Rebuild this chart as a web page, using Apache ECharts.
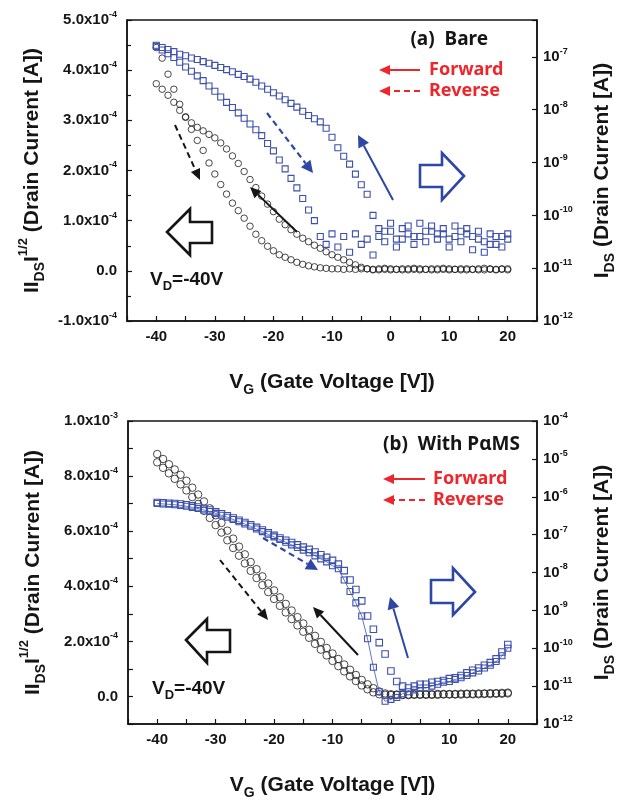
<!DOCTYPE html>
<html>
<head>
<meta charset="utf-8">
<title>Transfer curves</title>
<script src="https://cdn.jsdelivr.net/npm/echarts@6.0.0/dist/echarts.min.js"></script>
<style>
  html, body { margin: 0; padding: 0; background: #fff; }
  #chart { width: 625px; height: 801px; }
</style>
</head>
<body>
<div id="chart"></div>
<script>
// gate voltage sweep points (V)
const gateV = [-40, -39, -38, -37, -36, -35, -34, -33, -32, -31, -30, -29, -28, -27, -26, -25, -24, -23, -22, -21,
  -20, -19, -18, -17, -16, -15, -14, -13, -12, -11, -10, -9, -8, -7, -6, -5, -4, -3, -2, -1,
  0, 1, 2, 3, 4, 5, 6, 7, 8, 9, 10, 11, 12, 13, 14, 15, 16, 17, 18, 19, 20];

// (a) Bare : |Ids|^1/2 in units of 1e-4 A^1/2
const bareRootFwd = [3.73, 3.62, 3.50, 3.36, 3.20, 3.06, 2.95, 2.86, 2.79, 2.72, 2.65, 2.55, 2.43, 2.29, 2.14, 1.98, 1.82, 1.66, 1.49, 1.33,
  1.18, 1.03, 0.92, 0.82, 0.73, 0.65, 0.58, 0.51, 0.45, 0.38, 0.32, 0.27, 0.22, 0.17, 0.12, 0.07, 0.04, 0.02, 0.02, 0.03,
  0.02, 0.03, 0.02, 0.02, 0.03, 0.02, 0.03, 0.02, 0.02, 0.03, 0.02, 0.03, 0.02, 0.02, 0.03, 0.02, 0.02, 0.03, 0.02, 0.03, 0.02];
const bareRootRev = [4.45, 4.24, 3.92, 3.62, 3.32, 3.07, 2.82, 2.60, 2.40, 2.15, 1.93, 1.72, 1.53, 1.35, 1.20, 1.05, 0.89, 0.73, 0.60, 0.49,
  0.40, 0.32, 0.27, 0.22, 0.17, 0.13, 0.10, 0.08, 0.06, 0.05, 0.04, 0.04, 0.03, 0.04, 0.03, 0.04, 0.04, 0.03, 0.04, 0.05,
  0.04, 0.03, 0.04, 0.04, 0.05, 0.04, 0.03, 0.04, 0.04, 0.05, 0.04, 0.03, 0.04, 0.04, 0.03, 0.04, 0.05, 0.04, 0.03, 0.04, 0.04];
// (a) Bare : Ids (A)
const bareIdsFwd = [1.66e-7, 1.51e-7, 1.38e-7, 1.26e-7, 1.12e-7, 1.05e-7, 9.55e-8, 8.91e-8, 8.13e-8, 7.59e-8,
  6.92e-8, 6.31e-8, 5.75e-8, 5.25e-8, 4.68e-8, 4.27e-8, 3.80e-8, 3.31e-8, 2.82e-8, 2.45e-8,
  2.09e-8, 1.82e-8, 1.55e-8, 1.32e-8, 1.12e-8, 9.33e-9, 7.76e-9, 6.76e-9, 5.89e-9, 4.47e-9,
  3.02e-9, 1.91e-9, 1.32e-9, 9.33e-10, 6.03e-10, 3.80e-10, 2.51e-10, 1.00e-10, 5.62e-11, 5.01e-11,
  7.08e-11, 3.55e-11, 5.62e-11, 6.31e-11, 3.98e-11, 7.08e-11, 5.01e-11, 6.31e-11, 4.47e-11, 5.62e-11,
  3.55e-11, 6.31e-11, 5.01e-11, 5.62e-11, 3.98e-11, 5.01e-11, 3.16e-11, 4.47e-11, 2.82e-11, 3.98e-11, 4.47e-11];
const bareIdsRev = [1.58e-7, 1.35e-7, 1.15e-7, 9.77e-8, 7.94e-8, 6.46e-8, 5.37e-8, 4.37e-8, 3.55e-8, 2.82e-8,
  2.24e-8, 1.74e-8, 1.38e-8, 1.10e-8, 8.71e-9, 6.92e-9, 5.37e-9, 4.17e-9, 3.24e-9, 2.29e-9,
  1.66e-9, 1.12e-9, 7.59e-10, 5.01e-10, 3.31e-10, 2.09e-10, 1.26e-10, 7.94e-11, 3.98e-11, 2.82e-11,
  4.47e-11, 2.51e-11, 3.98e-11, 2.00e-11, 4.47e-11, 2.82e-11, 3.55e-11, 1.78e-11, 3.98e-11, 3.16e-11,
  5.01e-11, 2.51e-11, 3.55e-11, 4.47e-11, 2.82e-11, 3.98e-11, 3.16e-11, 5.01e-11, 3.55e-11, 4.47e-11,
  2.51e-11, 3.98e-11, 3.16e-11, 4.47e-11, 2.24e-11, 3.55e-11, 2.00e-11, 2.82e-11, 3.98e-11, 2.51e-11, 3.55e-11];

// (b) With PaMS : |Ids|^1/2 in units of 1e-4 A^1/2
const pamsRootFwd = [8.80, 8.62, 8.43, 8.24, 8.05, 7.83, 7.58, 7.33, 7.08, 6.83, 6.58, 6.30, 6.02, 5.73, 5.44, 5.16, 4.88, 4.62, 4.36, 4.10,
  3.85, 3.60, 3.36, 3.12, 2.88, 2.65, 2.42, 2.20, 1.98, 1.76, 1.56, 1.36, 1.16, 0.97, 0.78, 0.60, 0.44, 0.30, 0.18, 0.11,
  0.08, 0.07, 0.07, 0.07, 0.08, 0.08, 0.08, 0.08, 0.09, 0.09, 0.09, 0.09, 0.10, 0.10, 0.10, 0.11, 0.11, 0.12, 0.12, 0.13, 0.14];
const pamsRootRev = [8.50, 8.30, 8.10, 7.90, 7.70, 7.48, 7.24, 6.99, 6.74, 6.48, 6.22, 5.95, 5.67, 5.39, 5.11, 4.83, 4.56, 4.30, 4.04, 3.79,
  3.54, 3.29, 3.05, 2.81, 2.58, 2.35, 2.13, 1.91, 1.70, 1.49, 1.29, 1.10, 0.91, 0.73, 0.56, 0.40, 0.26, 0.15, 0.08, 0.06,
  0.05, 0.05, 0.05, 0.05, 0.06, 0.06, 0.06, 0.06, 0.06, 0.07, 0.07, 0.07, 0.07, 0.08, 0.08, 0.08, 0.09, 0.09, 0.10, 0.10, 0.11];
// (b) With PaMS : Ids (A)
const pamsIdsFwd = [7.08e-7, 6.92e-7, 6.76e-7, 6.61e-7, 6.46e-7, 6.17e-7, 5.75e-7, 5.37e-7, 4.90e-7, 4.47e-7,
  3.98e-7, 3.55e-7, 3.16e-7, 2.75e-7, 2.40e-7, 2.09e-7, 1.82e-7, 1.55e-7, 1.32e-7, 1.12e-7,
  9.55e-8, 8.13e-8, 7.08e-8, 6.17e-8, 5.37e-8, 4.68e-8, 4.07e-8, 3.47e-8, 2.95e-8, 2.51e-8,
  2.09e-8, 1.66e-8, 1.12e-8, 6.31e-9, 3.55e-9, 1.78e-9, 7.08e-10, 3.16e-10, 1.41e-10, 7.08e-11,
  2.51e-11, 1.32e-11, 1.00e-11, 8.91e-12, 1.00e-11, 1.12e-11, 1.12e-11, 1.26e-11, 1.32e-11, 1.41e-11,
  1.58e-11, 1.66e-11, 1.91e-11, 2.24e-11, 2.63e-11, 3.02e-11, 3.55e-11, 4.17e-11, 5.25e-11, 7.94e-11, 1.26e-10];
const pamsIdsRev = [6.61e-7, 6.46e-7, 6.31e-7, 6.17e-7, 5.89e-7, 5.62e-7, 5.25e-7, 4.90e-7, 4.47e-7, 4.07e-7,
  3.63e-7, 3.24e-7, 2.88e-7, 2.51e-7, 2.19e-7, 1.91e-7, 1.66e-7, 1.41e-7, 1.20e-7, 1.02e-7,
  8.71e-8, 7.41e-8, 6.31e-8, 5.37e-8, 4.57e-8, 3.89e-8, 3.31e-8, 2.75e-8, 2.29e-8, 1.91e-8,
  1.51e-8, 1.26e-8, 6.31e-9, 3.16e-9, 1.58e-9, 7.08e-10, 1.78e-10, 3.16e-11, 7.08e-12, 3.98e-12,
  4.47e-12, 5.01e-12, 6.31e-12, 7.08e-12, 7.94e-12, 8.91e-12, 8.91e-12, 1.00e-11, 1.12e-11, 1.26e-11,
  1.32e-11, 1.51e-11, 1.66e-11, 1.91e-11, 2.24e-11, 2.51e-11, 3.02e-11, 3.55e-11, 4.47e-11, 6.31e-11, 1.00e-10];

const FONT = 'Arial, "Liberation Sans", sans-serif';
const TXT = '#151515';
const BLUE = '#3d50ad';
const BLUE_DARK = '#2e46a4';
const RED = '#ee262c';

const tickRich = {
    n: {fontFamily: FONT, fontSize: 15, fontWeight: 'bold', color: TXT, lineHeight: 20},
    s: {fontFamily: FONT, fontSize: 9, fontWeight: 'bold', color: TXT, verticalAlign: 'top'}
};
const titleRich = {
    n: {fontFamily: FONT, fontSize: 21, fontWeight: 'bold', color: TXT, lineHeight: 30},
    sub: {fontFamily: FONT, fontSize: 14, fontWeight: 'bold', color: TXT, verticalAlign: 'bottom'},
    sup: {fontFamily: FONT, fontSize: 13, fontWeight: 'bold', color: TXT, verticalAlign: 'top'}
};

function rootLabel(every) {
    return function (v) {
        const m = Math.round(v);
        if (m % every !== 0) return '';
        if (m === 0) return '{n|0.0}';
        if (m === 10) return '{n|1.0x10}{s|-3}';
        return '{n|' + m.toFixed(1) + 'x10}{s|-4}';
    };
}
function logLabel(v) {
    const e = Math.log10(v);
    const r = Math.round(e);
    if (Math.abs(e - r) > 0.01) return '';
    return '{n|10}{s|' + r + '}';
}

function xAxisFor(gi) {
    return {
        type: 'value', gridIndex: gi, min: -45, max: 25, interval: 5,
        name: '{n|V}{sub|G}{n| (Gate Voltage [V])}',
        nameLocation: 'middle', nameGap: 46,
        nameTextStyle: {rich: titleRich},
        axisLine: {onZero: false, lineStyle: {color: TXT, width: 1.5}},
        axisTick: {inside: true, length: 5, lineStyle: {color: TXT, width: 1.2}},
        axisLabel: {
            margin: 8, fontFamily: FONT, fontSize: 15, fontWeight: 'bold', color: TXT,
            formatter: v => (v % 10 === 0 ? String(v) : '')
        },
        splitLine: {show: false}
    };
}
function rootAxis(gi, min, max, every, minor) {
    return {
        type: 'value', gridIndex: gi, position: 'left', min: min, max: max, interval: 1,
        name: '{n|I}{n|I}{sub|DS}{n|I}{sup|1/2}{n| (Drain Current [A])}',
        nameLocation: 'middle', nameGap: 80, nameRotate: 90,
        nameTextStyle: {rich: titleRich},
        axisLine: {show: true, onZero: false, lineStyle: {color: TXT, width: 1.5}},
        axisTick: {inside: true, length: 5, lineStyle: {color: TXT, width: 1.2}},
        minorTick: {show: minor, splitNumber: 2, length: 4, lineStyle: {color: TXT, width: 1.2}},
        axisLabel: {margin: 10, formatter: rootLabel(every), rich: tickRich},
        splitLine: {show: false}
    };
}
function logAxis(gi, min, max) {
    return {
        type: 'log', logBase: 10, gridIndex: gi, position: 'right', min: min, max: max,
        name: '{n|I}{sub|DS}{n| (Drain Current [A])}',
        nameLocation: 'middle', nameGap: 50, nameRotate: 90,
        nameTextStyle: {rich: titleRich},
        axisLine: {show: true, onZero: false, lineStyle: {color: TXT, width: 1.5}},
        axisTick: {inside: true, length: 5, lineStyle: {color: TXT, width: 1.2}},
        axisLabel: {margin: 6, formatter: logLabel, rich: tickRich},
        splitLine: {show: false}
    };
}

function pts(ys) {
    return gateV.map((v, i) => [v, ys[i]]);
}
function circles(name, ys, gi, yi, size) {
    return {
        name: name, type: 'scatter', xAxisIndex: gi, yAxisIndex: yi, data: pts(ys),
        symbol: 'circle', symbolSize: size, z: 2,
        itemStyle: {color: 'rgba(255,255,255,0)', borderColor: '#1c1c1c', borderWidth: 1}
    };
}
function squares(name, ys, gi, yi, size, withLine) {
    return {
        name: name, type: 'line', xAxisIndex: gi, yAxisIndex: yi, data: pts(ys),
        symbol: 'rect', symbolSize: size, showSymbol: true, z: 3,
        lineStyle: {color: BLUE, width: withLine ? 0.8 : 0, opacity: withLine ? 1 : 0},
        itemStyle: {color: 'rgba(255,255,255,0)', borderColor: BLUE, borderWidth: 1.1}
    };
}

// annotation helpers (pixel positions)
function arrow(x1, y1, x2, y2, color, dashed, w, hl, hw) {
    const a = Math.atan2(y2 - y1, x2 - x1);
    const bx = x2 - hl * Math.cos(a), by = y2 - hl * Math.sin(a);
    const px = -Math.sin(a) * hw, py = Math.cos(a) * hw;
    return {
        type: 'group', children: [
            {type: 'line', shape: {x1: x1, y1: y1, x2: bx, y2: by},
             style: {stroke: color, lineWidth: w, lineDash: dashed ? [6, 4] : null}},
            {type: 'polygon', shape: {points: [[x2, y2], [bx + px, by + py], [bx - px, by - py]]},
             style: {fill: color}}
        ]
    };
}
function fatArrow(points, color) {
    return {type: 'polygon', shape: {points: points}, style: {fill: 'none', stroke: color, lineWidth: 2.6}};
}
function label(x, y, text, font, color, align, rich) {
    return {type: 'text', x: x, y: y, style: {text: text, font: font, fill: color, align: align || 'left', verticalAlign: 'middle', rich: rich}};
}
const vdRich = {
    n: {fontFamily: FONT, fontSize: 19, fontWeight: 'bold', color: TXT, lineHeight: 26},
    sub: {fontFamily: FONT, fontSize: 13, fontWeight: 'bold', color: TXT, verticalAlign: 'bottom'}
};
const tagFont = 'bold 19px "Noto Sans", Arial, sans-serif';
const dirFont = 'bold 18px "Noto Sans", Arial, sans-serif';

const chart = echarts.init(document.getElementById('chart'));
const option = {
    animation: false,
    backgroundColor: '#fff',
    grid: [
        {left: 127, top: 20, width: 410, height: 301, show: true, borderColor: TXT, borderWidth: 1.5},
        {left: 128, top: 421, width: 412, height: 304, show: true, borderColor: TXT, borderWidth: 1.5}
    ],
    xAxis: [xAxisFor(0), xAxisFor(1)],
    yAxis: [
        rootAxis(0, -1, 5, 1, true),
        logAxis(0, 1e-12, 5e-7),
        rootAxis(1, -1, 10, 2, false),
        logAxis(1, 1e-12, 1e-4)
    ],
    series: [
        circles('Bare forward', bareRootFwd, 0, 0, 6.5),
        circles('Bare reverse', bareRootRev, 0, 0, 6.5),
        squares('Bare Ids forward', bareIdsFwd, 0, 1, 6, false),
        squares('Bare Ids reverse', bareIdsRev, 0, 1, 6, false),
        circles('PaMS forward', pamsRootFwd, 1, 2, 7.5),
        circles('PaMS reverse', pamsRootRev, 1, 2, 7.5),
        squares('PaMS Ids forward', pamsIdsFwd, 1, 3, 6.5, false),
        squares('PaMS Ids reverse', pamsIdsRev, 1, 3, 6, true)
    ],
    graphic: [
        // panel (a)
        label(488, 40, '(a)  Bare', tagFont, TXT, 'right'),
        arrow(420, 70, 379, 70, RED, false, 2, 11, 5),
        arrow(420, 91, 379, 91, RED, true, 2, 11, 5),
        label(429, 70, 'Forward', dirFont, RED),
        label(429, 91, 'Reverse', dirFont, RED),
        label(150, 280, '{n|V}{sub|D}{n|=-40V}', null, TXT, 'left', vdRich),
        fatArrow([[167, 232], [190, 209], [190, 222], [212, 222], [212, 243], [190, 243], [190, 255]], TXT),
        fatArrow([[464, 176], [442, 153], [442, 165], [420, 165], [420, 187], [442, 187], [442, 200]], BLUE_DARK),
        arrow(175, 125, 200, 180, TXT, true, 2, 11, 5),
        arrow(297, 232, 250, 187, TXT, false, 2, 11, 5),
        arrow(267, 113, 313, 173, BLUE_DARK, true, 2.2, 12, 6),
        arrow(393, 200, 358, 135, BLUE_DARK, false, 2, 12, 6),
        // panel (b)
        label(520, 445, '(b)  With P\u03b1MS', tagFont, TXT, 'right'),
        arrow(425, 479, 383, 479, RED, false, 2, 11, 5),
        arrow(425, 500, 383, 500, RED, true, 2, 11, 5),
        label(433, 479, 'Forward', dirFont, RED),
        label(433, 500, 'Reverse', dirFont, RED),
        label(152, 689, '{n|V}{sub|D}{n|=-40V}', null, TXT, 'left', vdRich),
        fatArrow([[186, 640], [207, 619], [207, 630], [230, 630], [230, 652], [207, 652], [207, 663]], TXT),
        fatArrow([[475, 592], [453, 568], [453, 580], [431, 580], [431, 603], [453, 603], [453, 615]], BLUE_DARK),
        arrow(220, 560, 268, 620, TXT, true, 2, 11, 5),
        arrow(358, 655, 313, 607, TXT, false, 2, 11, 5),
        arrow(263, 538, 318, 570, BLUE_DARK, true, 2.2, 12, 6),
        arrow(408, 658, 390, 597, BLUE_DARK, false, 2, 12, 6)
    ]
};
chart.setOption(option);
window.addEventListener('resize', function () {
    chart.resize();
});
</script>
</body>
</html>
